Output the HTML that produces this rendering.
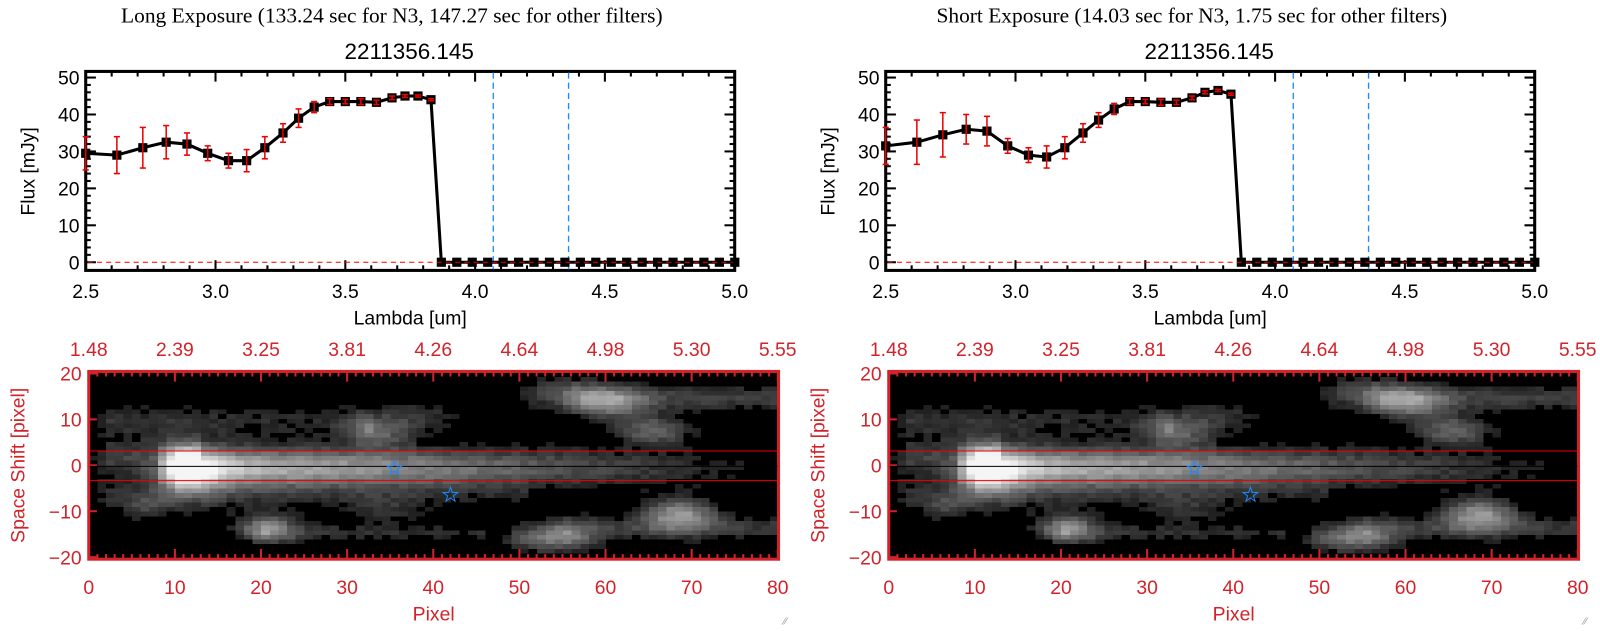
<!DOCTYPE html>
<html><head><meta charset="utf-8">
<style>
body{margin:0;background:#fff;width:1600px;height:630px;overflow:hidden;position:relative;font-family:"Liberation Sans",sans-serif}
#w{position:absolute;left:0;top:0;width:1568px;height:618px;transform:scale(1.0204);transform-origin:0 0}
svg{position:absolute;left:0;top:0}
canvas{position:absolute;image-rendering:pixelated}
</style></head><body><div id="w">
<canvas id="c0" width="80" height="40" style="left:87px;top:365px;width:676px;height:182px"></canvas>
<canvas id="c1" width="80" height="40" style="left:871px;top:365px;width:676px;height:182px"></canvas>
<svg id="s" width="1568" height="618" xmlns="http://www.w3.org/2000/svg"></svg>
</div>
<script>
const S=document.getElementById('s');let h='';
const lx=[2.5,2.62,2.72,2.81,2.89,2.97,3.05,3.12,3.19,3.26,3.32,3.38,3.44,3.5,3.56,3.62,3.68,3.73,3.78,3.83];
const sets=[
{v:[29.5,29,31,32.5,32,29.5,27.5,27.5,31,35,39,42,43.5,43.5,43.5,43.3,44.5,45,45,44],
 e:[4.5,5,5.5,4.5,3,2,2,3,3,2.5,2.5,1.5,0.8,0.6,0.8,0.6,0.5,0.4,0.3,0.3],
 t:"Long Exposure (133.24 sec for N3, 147.27 sec for other filters)"},
{v:[31.5,32.5,34.5,36,35.5,31.5,29,28.5,31,35,38.5,41.5,43.5,43.5,43.3,43.3,44.5,46,46.5,45.5],
 e:[5,6,6,4,4,2,2,3,3,2.5,2,1.5,0.8,0.6,0.8,0.6,0.5,0.4,0.3,0.3],
 t:"Short Exposure (14.03 sec for N3, 1.75 sec for other filters)"}];
sets.forEach((d,k)=>{
 const o=k*784;
 const X=l=>o+84+(l-2.5)*254.4, Y=v=>257-3.62*v;
 h+=`<text x="${o+384}" y="22" font-family="Liberation Serif,serif" font-size="21" text-anchor="middle">${d.t}</text>`;
 h+=`<text x="${o+401}" y="58" font-size="22" text-anchor="middle">2211356.145</text>`;
 h+=`<rect x="${o+84}" y="70" width="636" height="195" fill="none" stroke="#000" stroke-width="3"/>`;
 for(let v=0;v<=50;v+=2){let y=Y(v),L=v%10==0?10:5;h+=`<line x1="${o+84}" x2="${o+84+L}" y1="${y}" y2="${y}" stroke="#000" stroke-width="2"/><line x1="${o+720}" x2="${o+720-L}" y1="${y}" y2="${y}" stroke="#000" stroke-width="2"/>`;
  if(v%10==0)h+=`<text x="${o+78}" y="${y+7}" font-size="19" text-anchor="end">${v}</text>`;}
 for(let l=2.5;l<=5.001;l+=0.1){let x=X(l),big=Math.abs(l*2-Math.round(l*2))<0.01,L=big?10:5;h+=`<line x1="${x}" x2="${x}" y1="265" y2="${265-L}" stroke="#000" stroke-width="2"/><line x1="${x}" x2="${x}" y1="70" y2="${70+L}" stroke="#000" stroke-width="2"/>`;
  if(big)h+=`<text x="${x}" y="292" font-size="19" text-anchor="middle">${l.toFixed(1)}</text>`;}
 h+=`<text x="${o+402}" y="318" font-size="19" text-anchor="middle">Lambda [um]</text>`;
 h+=`<text transform="translate(${o+34},168) rotate(-90)" font-size="19" text-anchor="middle">Flux [mJy]</text>`;
 h+=`<line x1="${X(4.07)}" x2="${X(4.07)}" y1="71" y2="264" stroke="#1e88ff" stroke-width="1.3" stroke-dasharray="6,4"/><line x1="${X(4.36)}" x2="${X(4.36)}" y1="71" y2="264" stroke="#1e88ff" stroke-width="1.3" stroke-dasharray="6,4"/>`;
 let pts=lx.map((l,i)=>[X(l),Y(d.v[i])]);
 for(let i=0;i<20;i++)pts.push([X(3.87+i*0.0595),Y(0)]);
 h+=`<polyline points="${pts.map(p=>p.join(',')).join(' ')}" fill="none" stroke="#000" stroke-width="3"/>`;
 pts.forEach(p=>h+=`<rect x="${p[0]-4.5}" y="${p[1]-4.5}" width="9" height="9" fill="#000"/>`);
 h+=`<line x1="${o+86}" x2="${o+718}" y1="${Y(0)}" y2="${Y(0)}" stroke="#e00" stroke-dasharray="5,4"/>`;
 lx.forEach((l,i)=>{let x=X(l),a=Y(d.v[i]+d.e[i]),b=Y(d.v[i]-d.e[i]);h+=`<line x1="${x}" x2="${x}" y1="${a}" y2="${b}" stroke="#e00" stroke-width="1.5"/><line x1="${x-3}" x2="${x+3}" y1="${a}" y2="${a}" stroke="#e00" stroke-width="1.5"/><line x1="${x-3}" x2="${x+3}" y1="${b}" y2="${b}" stroke="#e00" stroke-width="1.5"/>`;});
 const R="#d2232a",PX=p=>o+87+p*8.44,PY=s=>456-4.5*s;
 h+=`<rect x="${o+87}" y="364" width="676" height="184" fill="none" stroke="${R}" stroke-width="3"/>`;
 const tl=["1.48","2.39","3.25","3.81","4.26","4.64","4.98","5.30","5.55"];
 for(let p=0;p<=80;p++){let x=PX(p),L=p%10==0?9:4;h+=`<line x1="${x}" x2="${x}" y1="365" y2="${365+L}" stroke="${R}" stroke-width="2"/><line x1="${x}" x2="${x}" y1="547" y2="${547-L}" stroke="${R}" stroke-width="2"/>`;
  if(p%10==0){h+=`<text x="${x}" y="582" font-size="19" fill="${R}" text-anchor="middle">${p}</text><text x="${x}" y="349" font-size="19" fill="${R}" text-anchor="middle">${tl[p/10]}</text>`;}}
 for(let s=-20;s<=20;s+=10){let y=PY(s);h+=`<line x1="${o+87}" x2="${o+95}" y1="${y}" y2="${y}" stroke="${R}" stroke-width="2"/><text x="${o+80}" y="${y+7}" font-size="19" fill="${R}" text-anchor="end">${s==0?0:(s<0?'−'+(-s):s)}</text>`;}
 h+=`<text x="${o+425}" y="608" font-size="19" fill="${R}" text-anchor="middle">Pixel</text>`;
 h+=`<text transform="translate(${o+24},456) rotate(-90)" font-size="19" fill="${R}" text-anchor="middle">Space Shift [pixel]</text>`;
 h+=`<line x1="${o+88}" x2="${o+762}" y1="442" y2="442" stroke="#e00" stroke-width="1"/><line x1="${o+88}" x2="${o+762}" y1="471" y2="471" stroke="#e00" stroke-width="1"/><line x1="${o+88}" x2="${o+762}" y1="457" y2="457" stroke="#000" stroke-width="1"/>`;
 const star=(cx,cy)=>{let p=[];for(let i=0;i<10;i++){let r=i%2?3:7.5,a=-Math.PI/2+i*Math.PI/5;p.push((cx+r*Math.cos(a)).toFixed(1)+','+(cy+r*Math.sin(a)).toFixed(1));}return `<polygon points="${p.join(' ')}" fill="none" stroke="#1e88ff" stroke-width="1"/>`;};
 h+=star(PX(35.5),459)+star(PX(42),485);
 h+=`<text x="${o+768}" y="612" font-size="10" fill="#999">⁄⁄</text>`;
});
S.innerHTML=h;
function seed(n){return ((Math.sin(n*12.9898)*43758.5453)%1+1)%1;}
const blobs=[[11,-1,.4,3,4],[33,8,.4,2.5,2.5],[38,11,.2,3,2.5],[54,16,.3,3,2.5],[60,14,.45,3,2.5],[65,8,.4,3,2.2],[20,-13,.45,2.5,2.2],[53,-15,.5,3.5,2.2],[68,-10,.55,3,2.5],[6,-9,.2,2,2],[34,-9,.15,3,2]];
const streaks=[[8,76,0,.85,3,.1],[0,32,10,.2,2.5,.15],[0,50,-6,.18,2.5,.1],[55,80,15,.25,2,.25],[18,45,-14,.22,1.5,.15],[53,80,-13,.22,2,.22],[0,12,2,.25,3,.25]];
for(const id of ['c0','c1']){
 const c=document.getElementById(id).getContext('2d');const im=c.createImageData(80,40);
 for(let r=0;r<40;r++)for(let p=0;p<80;p++){
  const s=20-r;let v=0;
  blobs.forEach(b=>{v+=b[2]*Math.exp(-((p-b[0])**2/(2*b[3]**2)+(s-b[1])**2/(2*b[4]**2)));});
  streaks.forEach(t=>{if(p>=t[0]&&p<=t[1]){let f=t[3]-(t[3]-t[5])*(p-t[0])/(t[1]-t[0]);let e=Math.min(1,(p-t[0]+1)/3);v+=e*f*Math.exp(-((s-t[2])**2)/(2*t[4]**2));}});
  v+=(seed(r*80+p)-0.5)*0.1;
  let g=v<0.13?0:Math.min(245,Math.round(Math.min(v,1)*245));
  const i=(r*80+p)*4;im.data[i]=im.data[i+1]=im.data[i+2]=g;im.data[i+3]=255;}
 c.putImageData(im,0,0);}
</script>
</body></html>
